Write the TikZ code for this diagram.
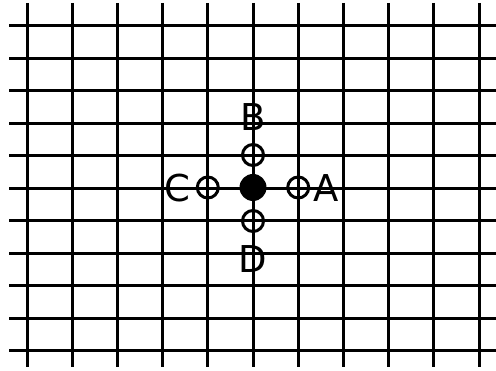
\documentclass[tikz,border=0pt]{standalone}
\usepackage{fontspec}
\setmainfont{DejaVu Sans}
\begin{document}
\begin{tikzpicture}[x=1pt,y=-1pt,
  gridline/.style={line width=3pt,black},
  opencirc/.style={circle,draw=black,line width=3pt,minimum size=21pt,inner sep=0pt},
  dotcirc/.style={circle,fill=black,minimum size=27pt,inner sep=0pt},
  lbl/.style={font=\fontsize{37}{37}\selectfont,inner sep=0pt}]
\useasboundingbox (0,0) rectangle (496,371);
\fill[white] (0,0) rectangle (496,371);
\foreach \i in {0,...,10}{
  \draw[gridline] ({27+45.2*\i},3) -- ({27+45.2*\i},367);
  \draw[gridline] (9,{26+32.5*\i}) -- (496,{26+32.5*\i});
}
\node[dotcirc] (o) at (253,187.5) {};
\node[opencirc] (b) at (253,155) {};
\node[opencirc] (d) at (253,221) {};
\node[opencirc] (c) at (207.8,187.5) {};
\node[opencirc] (a) at (298.2,187.5) {};
\node[lbl] (lb) at (253,117) {B};
\node[lbl] (ld) at (253,259) {D};
\node[lbl] (lc) at (177,188) {C};
\node[lbl] (la) at (326,188) {A};
\end{tikzpicture}
\end{document}
